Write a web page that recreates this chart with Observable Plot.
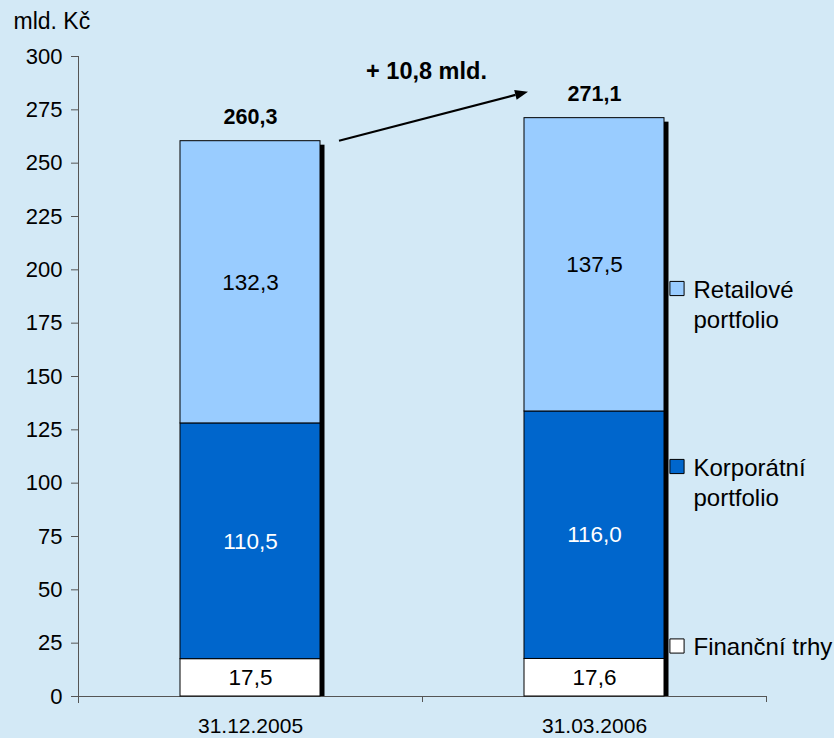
<!DOCTYPE html>
<html>
<head>
<meta charset="utf-8">
<script src="https://cdn.jsdelivr.net/npm/d3@7"></script>
<script src="https://cdn.jsdelivr.net/npm/@observablehq/plot@0.6"></script>
<style>
  html, body { margin: 0; padding: 0; background: #d3e9f6; }
  #chart svg { display: block; }
</style>
</head>
<body>
<div id="chart"></div>
<script>
// Loan portfolio by segment, in billions of CZK
const dates = ["31.12.2005", "31.03.2006"];
const seriesNames = ["Finanční trhy", "Korporátní portfolio", "Retailové portfolio"];
const financniTrhy = [17.5, 17.6];
const korporatni = [110.5, 116.0];
const retailove = [132.3, 137.5];
const totals = [260.3, 271.1];
const yTicks = [0, 25, 50, 75, 100, 125, 150, 175, 200, 225, 250, 275, 300];
const unitLabel = "mld. Kč";
const legendLabels = ["Retailové\nportfolio", "Korporátní\nportfolio", "Finanční trhy"];
const legendSeries = ["Retailové portfolio", "Korporátní portfolio", "Finanční trhy"];

const colors = ["#ffffff", "#0066cc", "#99ccff"];
const fmt = v => v.toFixed(1).replace(".", ",");

const rows = dates.flatMap((date, i) => [
  {date, series: seriesNames[0], value: financniTrhy[i]},
  {date, series: seriesNames[1], value: korporatni[i]},
  {date, series: seriesNames[2], value: retailove[i]}
]);
const totalRows = dates.map((date, i) => ({date, total: totals[i]}));
const changeLabel = "+ " + fmt(totals[1] - totals[0]) + " mld.";

const W = 834, H = 738;
const mL = 78, mR = 68, mT = 56, mB = 42;
const halfStep = (W - mL - mR) / dates.length / 2;
const inset = 102;
const axisColor = "#555";

// legend rows, top edges within the frame
const legendTops = [225, 403, 582.5];
const legendMarks = legendLabels.flatMap((label, i) => [
  Plot.dot([label], {
    frameAnchor: "top-left", dx: 598.5, dy: legendTops[i] + 7,
    symbol: "square", r: 8,
    fill: colors[seriesNames.indexOf(legendSeries[i])], stroke: "black", strokeWidth: 1
  }),
  Plot.text([label], {
    frameAnchor: "top-left", dx: 615, dy: legendTops[i] - 5,
    text: d => d, textAnchor: "start", lineAnchor: "top",
    fontSize: 24, lineHeight: 1.25, fill: "black"
  })
]);

const plot = Plot.plot({
  width: W, height: H,
  marginLeft: mL, marginRight: mR, marginTop: mT, marginBottom: mB,
  style: {
    background: "#d3e9f6",
    fontFamily: "'Liberation Sans', Arial, Helvetica, sans-serif",
    fontSize: "22px",
    color: "black"
  },
  x: {domain: dates, padding: 0, axis: null, label: null},
  y: {domain: [0, 300], axis: null, label: null},
  color: {domain: seriesNames, range: colors},
  marks: [
    // axis lines
    Plot.frame({anchor: "left", stroke: axisColor, insetBottom: -6}),
    Plot.ruleY([0], {stroke: axisColor}),
    Plot.axisY({ticks: yTicks, anchor: "left", tickSize: 7, tickPadding: 9,
      stroke: axisColor, fill: "black", fontSize: 22, label: null}),
    Plot.axisX({anchor: "bottom", tickSize: 0, tickPadding: 22,
      fill: "black", fontSize: 21, label: null}),
    Plot.axisX({anchor: "bottom", tickSize: 6, dx: halfStep, tickFormat: () => "",
      stroke: axisColor, label: null}),
    // drop shadow behind each bar
    Plot.barY(totalRows, {x: "date", y: "total", fill: "black",
      dx: 4.5, insetTop: 4, insetLeft: inset, insetRight: inset}),
    // stacked segments
    Plot.barY(rows, {x: "date", y: "value", z: "series", fill: "series",
      stroke: "black", strokeWidth: 1, insetLeft: inset, insetRight: inset}),
    // segment values
    Plot.text(rows, Plot.stackY({x: "date", y: "value", z: "series",
      text: d => d.series !== seriesNames[1] ? fmt(d.value) : null,
      fill: "black", fontSize: 22.5})),
    Plot.text(rows, Plot.stackY({x: "date", y: "value", z: "series",
      text: d => d.series === seriesNames[1] ? fmt(d.value) : null,
      fill: "white", fontSize: 22.5})),
    // totals above bars
    Plot.text(totalRows, {x: "date", y: "total", text: d => fmt(d.total),
      dy: -24, fontWeight: "bold", fontSize: 21.5, fill: "black"}),
    // unit label and change annotation
    Plot.text([unitLabel], {frameAnchor: "top-left", dx: -65, dy: -44, text: d => d,
      textAnchor: "start", lineAnchor: "top", fontSize: 23, fill: "black"}),
    Plot.text([changeLabel], {frameAnchor: "top", dx: 4, dy: 6, text: d => d,
      lineAnchor: "top", fontWeight: "bold", fontSize: 23.5, fill: "black"}),
    ...legendMarks
  ]
});

document.getElementById("chart").appendChild(plot);

// arrow from the first total towards the second total label
const svg = d3.select(plot.tagName.toLowerCase() === "svg" ? plot : plot.querySelector("svg"));
const xs = plot.scale("x");
const ys = plot.scale("y");
const x0 = xs.apply(dates[0]) + xs.bandwidth - inset + 19;
const y0 = ys.apply(totals[0]);
const x1 = xs.apply(dates[1]) + inset + 4;
const y1 = ys.apply(totals[1]) - 26;
const ang = Math.atan2(y1 - y0, x1 - x0);
const headLen = 13, headHalf = 5;
const bx = x1 - headLen * Math.cos(ang), by = y1 - headLen * Math.sin(ang);
const g = svg.append("g").attr("class", "arrow");
g.append("line")
  .attr("x1", x0).attr("y1", y0).attr("x2", bx).attr("y2", by)
  .attr("stroke", "black").attr("stroke-width", 2.2);
g.append("path")
  .attr("d", `M${x1},${y1}L${bx + headHalf * Math.sin(ang)},${by - headHalf * Math.cos(ang)}L${bx - headHalf * Math.sin(ang)},${by + headHalf * Math.cos(ang)}Z`)
  .attr("fill", "black");
</script>
</body>
</html>
